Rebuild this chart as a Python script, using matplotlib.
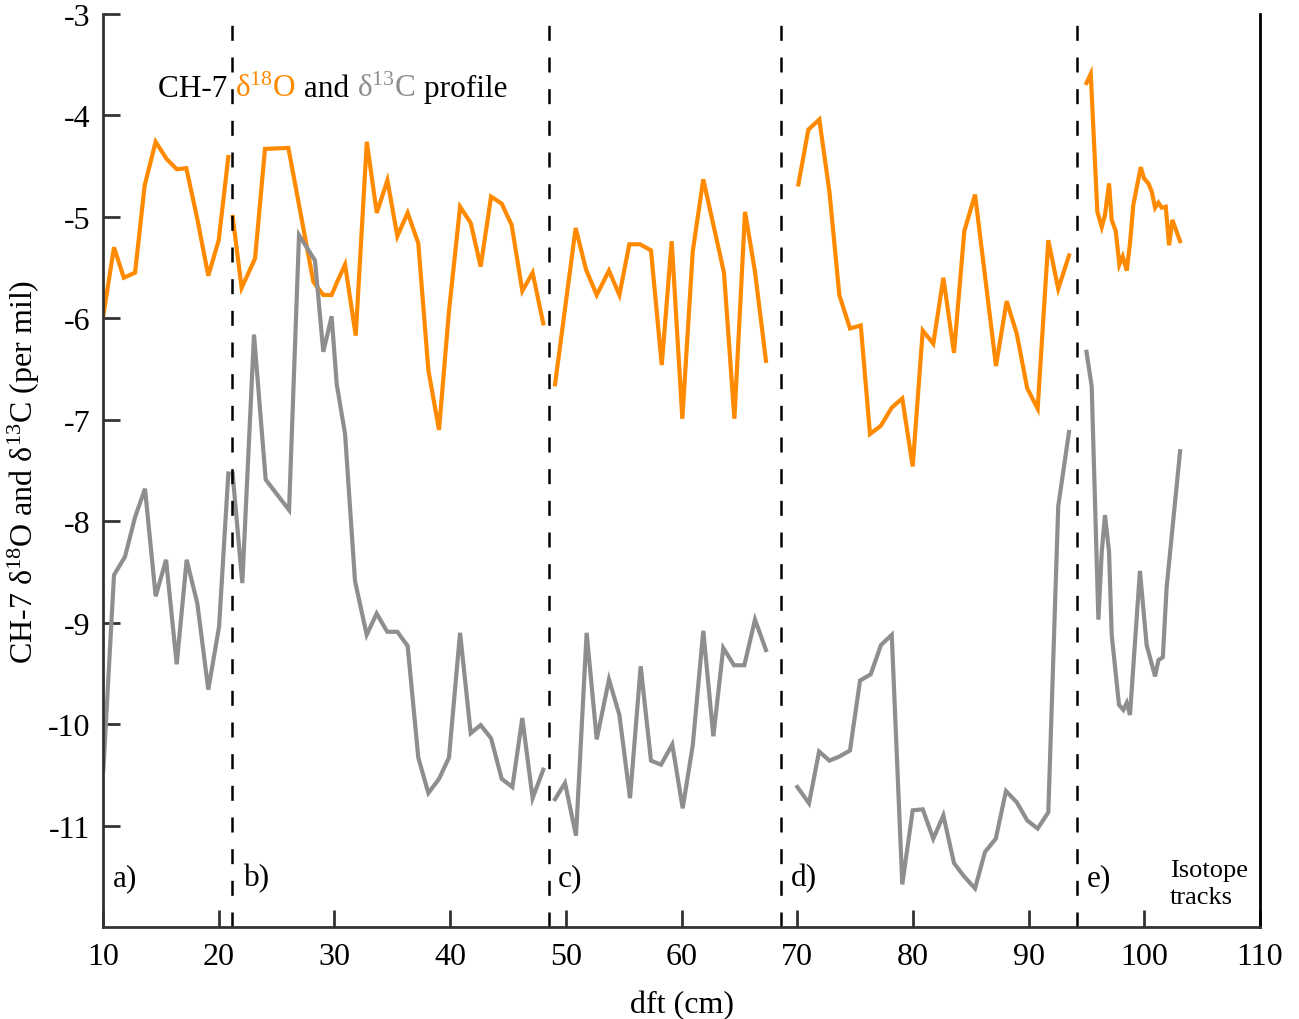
import numpy as np
import matplotlib
matplotlib.use("Agg")
import matplotlib.pyplot as plt

plt.rcParams['font.family'] = ['Liberation Serif', 'DejaVu Serif']
plt.rcParams['mathtext.fontset'] = 'custom'
plt.rcParams['mathtext.rm'] = 'Liberation Serif'
plt.rcParams['mathtext.default'] = 'regular'
plt.rcParams['lines.scale_dashes'] = False
plt.rcParams['axes.unicode_minus'] = False

ORANGE = '#ff8a00'
GREY = '#8e8e8e'

# d18O per track (depth in cm, value in per mil)
o_depth_a = [10.0, 10.95, 11.8, 12.77, 13.6, 14.55, 15.5, 16.37, 17.2, 18.15, 19.1, 20.0, 20.83]
o_val_a = [-5.99, -5.30, -5.60, -5.55, -4.69, -4.26, -4.43, -4.53, -4.52, -5.02, -5.58, -5.23, -4.41]
o_depth_b = [21.21, 21.98, 23.14, 24.0, 26.02, 28.18, 29.04, 29.76, 30.2, 30.92, 31.84, 32.8, 33.66,
             34.58, 35.44, 36.33, 37.25, 38.12, 39.04, 39.9, 40.86, 41.78, 42.64, 43.54, 44.46,
             45.32, 46.24, 47.13, 48.05]
o_val_b = [-5.0, -5.70, -5.41, -4.33, -4.32, -5.64, -5.77, -5.77, -5.65, -5.47, -6.17, -4.26, -4.96,
           -4.64, -5.19, -4.96, -5.26, -6.51, -7.10, -5.93, -4.90, -5.06, -5.49, -4.80, -4.87,
           -5.08, -5.73, -5.55, -6.05]
o_depth_c = [49.07, 50.85, 51.75, 52.67, 53.73, 54.63, 55.49, 56.41, 57.36, 58.29, 59.15, 60.07,
             60.97, 61.88, 63.67, 64.57, 65.49, 66.35, 67.3]
o_val_c = [-6.65, -5.11, -5.52, -5.77, -5.53, -5.77, -5.27, -5.27, -5.33, -6.46, -5.24, -6.99,
           -5.34, -4.63, -5.55, -6.99, -4.95, -5.54, -6.42]
o_depth_d = [70.1, 70.96, 71.91, 72.78, 73.64, 74.56, 75.49, 76.29, 77.22, 78.17, 79.08, 79.98,
             80.85, 81.76, 82.63, 83.55, 84.44, 85.37, 87.18, 88.1, 88.97, 89.88, 90.78, 91.7,
             92.56, 93.49]
o_val_d = [-4.68, -4.14, -4.04, -4.75, -5.77, -6.10, -6.07, -7.14, -7.06, -6.88, -6.79, -7.46,
           -6.12, -6.25, -5.60, -6.34, -5.14, -4.78, -6.47, -5.83, -6.15, -6.69, -6.89, -5.23,
           -5.71, -5.38]
o_depth_e = [95.0, 95.37, 95.94, 96.32, 96.6, 96.95, 97.18, 97.53, 97.84, 98.13, 98.48, 98.76,
             99.05, 99.69, 99.97, 100.35, 100.64, 100.93, 101.22, 101.5, 101.85, 102.14, 102.42, 103.09]
o_val_e = [-3.68, -3.59, -4.95, -5.10, -4.98, -4.67, -5.03, -5.14, -5.47, -5.39, -5.53, -5.26,
           -4.88, -4.51, -4.62, -4.67, -4.75, -4.91, -4.86, -4.91, -4.90, -5.28, -5.03, -5.24]

# d13C per track
c_depth_a = [10.03, 10.95, 11.9, 12.77, 13.63, 14.55, 15.45, 16.37, 17.23, 18.15, 19.1, 20.03, 20.83]
c_val_a = [-10.45, -8.53, -8.35, -7.96, -7.68, -8.74, -8.38, -9.41, -8.38, -8.81, -9.66, -9.04, -7.53]
c_depth_b = [21.2, 22.04, 23.05, 24.06, 26.08, 26.94, 28.32, 29.04, 29.76, 30.2, 30.92, 31.78,
             32.79, 33.65, 34.57, 35.44, 36.33, 37.25, 38.12, 39.04, 39.9, 40.86, 41.78, 42.64,
             43.54, 44.46, 45.38, 46.24, 47.13, 48.05]
c_val_b = [-7.53, -8.61, -6.16, -7.59, -7.89, -5.18, -5.43, -6.33, -5.98, -6.65, -7.14, -8.59,
           -9.12, -8.91, -9.09, -9.09, -9.23, -10.33, -10.68, -10.54, -10.33, -9.10, -10.09, -10.01,
           -10.14, -10.54, -10.62, -9.94, -10.73, -10.45]
c_depth_c = [49.07, 49.93, 50.88, 51.8, 52.67, 53.73, 54.63, 55.55, 56.47, 57.36, 58.23, 59.2,
             60.1, 60.97, 61.88, 62.75, 63.61, 64.54, 65.43, 66.35, 67.3]
c_val_c = [-10.74, -10.58, -11.10, -9.10, -10.15, -9.56, -9.91, -10.73, -9.43, -10.36, -10.40,
           -10.20, -10.83, -10.21, -9.08, -10.12, -9.25, -9.42, -9.42, -8.97, -9.27]
c_depth_d = [70.01, 71.02, 71.89, 72.78, 73.64, 74.56, 75.43, 76.35, 77.24, 78.17, 79.08, 79.98,
             80.85, 81.76, 82.63, 83.55, 84.41, 85.37, 86.23, 87.16, 88.04, 88.97, 89.88, 90.78,
             91.7, 92.56, 93.49]
c_val_d = [-10.62, -10.78, -10.27, -10.36, -10.32, -10.26, -9.57, -9.51, -9.22, -9.12, -11.58,
           -10.85, -10.84, -11.13, -10.90, -11.37, -11.50, -11.62, -11.26, -11.13, -10.66, -10.77,
           -10.95, -11.03, -10.87, -7.85, -7.12]
c_depth_e = [95.0, 95.45, 96.03, 96.32, 96.6, 96.95, 97.18, 97.81, 98.19, 98.48, 98.76, 99.62,
             100.2, 100.93, 101.22, 101.6, 101.93, 103.09]
c_val_e = [-6.33, -6.67, -8.97, -8.30, -7.94, -8.30, -9.12, -9.81, -9.86, -9.79, -9.91, -8.49,
           -9.22, -9.53, -9.37, -9.34, -8.65, -7.31]

track_breaks = [21.15, 48.55, 68.6, 94.18]
track_names = ['a)', 'b)', 'c)', 'd)', 'e)']
track_label_x = [10.86, 22.19, 49.33, 69.46, 95.05]

fig = plt.figure(figsize=(12.99, 10.20), dpi=100)
ax = fig.add_axes([0.0793, 0.0902, 0.8907, 0.8951])

for d, v in [(o_depth_a, o_val_a), (o_depth_b, o_val_b), (o_depth_c, o_val_c),
             (o_depth_d, o_val_d), (o_depth_e, o_val_e)]:
    ax.plot(d, v, color=ORANGE, lw=3.0, solid_joinstyle='miter')
for d, v in [(c_depth_a, c_val_a), (c_depth_b, c_val_b), (c_depth_c, c_val_c),
             (c_depth_d, c_val_d), (c_depth_e, c_val_e)]:
    ax.plot(d, v, color=GREY, lw=3.0, solid_joinstyle='miter')

for xb in track_breaks:
    ax.axvline(xb, color='black', lw=1.8, dashes=(10.8, 12))

for name, xl in zip(track_names, track_label_x):
    ax.text(xl, -11.59, name, fontsize=22.5, va='baseline', ha='left')
ax.text(102.22, -11.57, 'Isotope\ntracks', fontsize=19, va='center', ha='left', linespacing=1.3)

# title built from coloured pieces
pieces = [('CH-7 ', 'black'), ('δ$^{18}$O', ORANGE), (' and ', 'black'),
          ('δ$^{13}$C', GREY), (' profile', 'black')]
prev = ax.text(0.0475, 0.9025, pieces[0][0], transform=ax.transAxes, fontsize=22.5,
               color=pieces[0][1], va='bottom', ha='left')
for s, c in pieces[1:]:
    prev = ax.annotate(s, xy=(1, 0), xycoords=prev, fontsize=22.5, color=c,
                       va='bottom', ha='left')

ax.set_xlim(10, 110)
ax.set_ylim(-12, -3)
ax.set_xticks(np.arange(10, 111, 10))
ax.set_yticks(np.arange(-11, -2, 1))
ax.tick_params(direction='in', length=12, width=2, labelsize=23, color='#333333')
ax.tick_params(axis='x', pad=11)
ax.tick_params(axis='y', pad=9)
ax.spines['top'].set_visible(False)
ax.spines['left'].set_color('#333333')
ax.spines['bottom'].set_color('#333333')
ax.spines['right'].set_color('black')
for sp in ['left', 'bottom', 'right']:
    ax.spines[sp].set_linewidth(2)

ax.set_xlabel('dft (cm)', fontsize=23)
ax.set_ylabel('CH-7 δ$^{18}$O and δ$^{13}$C (per mil)', fontsize=23)
ax.xaxis.set_label_coords(0.5, -0.069)
ax.yaxis.set_label_coords(-0.053, 0.5)

fig.savefig('out.png', dpi=100)
